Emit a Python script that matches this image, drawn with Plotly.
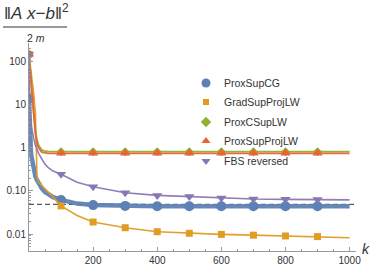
import plotly.graph_objects as go

# iteration grid
K = [0, 1, 2, 3, 4, 6, 8, 10, 15, 20, 25, 30, 40, 50, 60, 75, 100, 150, 200, 250, 300, 400, 500, 600, 700, 800, 900, 1000]

prox_sup_cg = [14, 5, 2.5, 1.7, 1.2, 0.8, 0.62, 0.5, 0.3, 0.22, 0.18, 0.15, 0.115, 0.095, 0.083, 0.072, 0.062, 0.051, 0.047, 0.046, 0.045, 0.044, 0.044, 0.044, 0.044, 0.044, 0.044, 0.044]
grad_sup_proj_lw = [150, 130, 115, 100, 88, 68, 52, 40, 17, 6.5, 0.21, 0.16, 0.135, 0.115, 0.095, 0.072, 0.045, 0.027, 0.019, 0.016, 0.014, 0.0113, 0.0104, 0.0098, 0.0094, 0.009, 0.0087, 0.0082]
prox_c_sup_lw = [150, 125, 100, 78, 62, 38, 25, 15, 5.5, 2.5, 1.55, 1.15, 0.9, 0.84, 0.83, 0.82, 0.82, 0.82, 0.82, 0.82, 0.82, 0.82, 0.82, 0.82, 0.82, 0.82, 0.82, 0.82]
prox_sup_proj_lw = [150, 120, 95, 72, 56, 34, 22, 12, 4.6, 2.1, 1.3, 1.0, 0.8, 0.76, 0.75, 0.75, 0.75, 0.75, 0.75, 0.75, 0.75, 0.75, 0.75, 0.75, 0.75, 0.75, 0.75, 0.75]
fbs_reversed = [150, 12, 6, 5, 4.3, 3.5, 2.9, 2.4, 1.6, 1.15, 0.9, 0.75, 0.55, 0.42, 0.35, 0.29, 0.245, 0.16, 0.126, 0.105, 0.091, 0.079, 0.074, 0.069, 0.065, 0.064, 0.063, 0.062]

reference_level = 0.049
marker_k = [0, 100, 200, 300, 400, 500, 600, 700, 800, 900]

legend_names = ["ProxSupCG", "GradSupProjLW", "ProxCSupLW", "ProxSupProjLW", "FBS reversed"]

styles = {
    "ProxSupCG": ("#5E81B5", "circle", 10, 4.5, 9),
    "GradSupProjLW": ("#E19C24", "square", 7, 1.6, 6),
    "ProxCSupLW": ("#8FB032", "diamond", 7, 1.8, 8),
    "ProxSupProjLW": ("#EB6235", "triangle-up", 9, 1.8, 8),
    "FBS reversed": ("#8778B3", "triangle-down", 9, 1.6, 8),
}
values = {
    "ProxSupCG": prox_sup_cg,
    "GradSupProjLW": grad_sup_proj_lw,
    "ProxCSupLW": prox_c_sup_lw,
    "ProxSupProjLW": prox_sup_proj_lw,
    "FBS reversed": fbs_reversed,
}
draw_order = ["ProxSupCG", "GradSupProjLW", "ProxCSupLW", "ProxSupProjLW", "FBS reversed"]

W, H = 374, 265
ML, MR, MT, MB = 29, 18, 43, 14

fig = go.Figure()

fig.add_trace(go.Scatter(x=[0, 1020], y=[reference_level, reference_level], mode="lines",
                         line=dict(color="#333333", width=1, dash="5px,3px"), showlegend=False, hoverinfo="skip"))

for name in draw_order:
    color, sym, size, lw, _ = styles[name]
    vals = values[name]
    fig.add_trace(go.Scatter(x=K, y=vals, mode="lines", line=dict(color=color, width=lw),
                             showlegend=False, opacity=0.95))
    mk = [K.index(k) for k in marker_k]
    fig.add_trace(go.Scatter(x=[K[i] for i in mk], y=[vals[i] for i in mk], mode="markers",
                             marker=dict(symbol=sym, size=size, color=color, line=dict(width=0)),
                             name=name, showlegend=False))

# manual legend on a pixel-space overlay axis
leg_x = 206
leg_y = [83, 102, 122, 141, 161]
for name, yy in zip(legend_names, leg_y):
    color, sym, _, _, lsize = styles[name]
    fig.add_trace(go.Scatter(x=[leg_x], y=[yy], xaxis="x2", yaxis="y2", mode="markers",
                             marker=dict(symbol=sym, size=lsize, color=color, line=dict(width=0)),
                             showlegend=False, hoverinfo="skip"))
    fig.add_annotation(x=222, y=yy, xref="x2", yref="y2", xanchor="left", yanchor="middle",
                       text=name, showarrow=False, font=dict(size=10.5, color="#333333"))

minor_y = [m * 10 ** e for e in range(-3, 3) for m in range(2, 10)]

fig.update_layout(
    width=W, height=H,
    margin=dict(l=ML, r=MR, t=MT, b=MB, autoexpand=False),
    paper_bgcolor="white", plot_bgcolor="white",
    showlegend=False,
    font=dict(family="Liberation Sans, Arial, sans-serif", size=10, color="#333333"),
    xaxis=dict(range=[0, 1020], showline=True, linecolor="#999999", linewidth=1, automargin=False,
               showgrid=False, zeroline=False, tickvals=[200, 400, 600, 800, 1000],
               ticks="inside", ticklen=4, tickcolor="#999999",
               minor=dict(dtick=50, tick0=0, ticks="inside", ticklen=2, tickcolor="#999999")),
    yaxis=dict(type="log", range=[-2.395, 2.44], showline=True, linecolor="#999999", linewidth=1,
               showgrid=False, zeroline=False, automargin=False,
               tickvals=[0.01, 0.1, 1, 10, 100], ticktext=["0.01", "0.10", "1", "10", "100"],
               ticks="inside", ticklen=4, tickcolor="#999999",
               minor=dict(tickvals=minor_y, ticks="inside", ticklen=2, tickcolor="#999999")),
    xaxis2=dict(range=[ML, W - MR], overlaying="x", visible=False, fixedrange=True),
    yaxis2=dict(range=[H - MB, MT], overlaying="y", visible=False, fixedrange=True),
)

def px(xp):
    return (xp - ML) / (W - ML - MR)
def py(yp):
    return (H - MB - yp) / (H - MT - MB)

fig.add_annotation(x=px(2), y=py(12), xref="paper", yref="paper", xanchor="left", yanchor="middle",
                   text="‖<i>A</i> <i>x</i>−<i>b</i>‖<sup>2</sup>", showarrow=False,
                   font=dict(size=17, color="#333333"))
fig.add_shape(type="line", xref="paper", yref="paper", x0=px(3), x1=px(67), y0=py(27), y1=py(27),
              line=dict(color="#333333", width=1))
fig.add_annotation(x=px(25), y=py(38), xref="paper", yref="paper", xanchor="left", yanchor="middle",
                   text="2 <i>m</i>", showarrow=False, font=dict(size=10.5, color="#333333"))
fig.add_annotation(x=px(366), y=py(249), xref="paper", yref="paper", xanchor="center", yanchor="middle",
                   text="<i>k</i>", showarrow=False, font=dict(size=14, color="#333333"))

fig.write_html("out.html", config={"displayModeBar": False},
               post_script="document.body.style.margin='0';document.body.style.overflow='hidden';")
